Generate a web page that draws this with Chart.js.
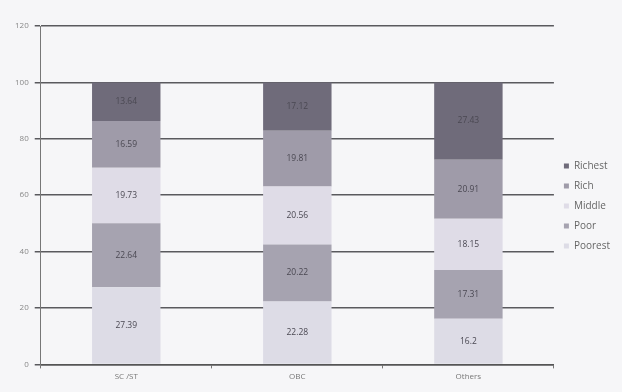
<!DOCTYPE html>
<html>
<head>
<meta charset="utf-8">
<script src="https://cdn.jsdelivr.net/npm/chart.js@4/dist/chart.umd.min.js"></script>
<style>
  html, body { margin: 0; padding: 0; background: #f6f6f8; }
  #wrap { width: 622px; height: 392px; position: relative; }
</style>
</head>
<body>
<div id="wrap"><canvas id="c" width="622" height="392"></canvas></div>
<script>
// Wealth quintile shares (%) by social group
const categories = ['SC /ST', 'OBC', 'Others'];
const poorest = [27.39, 22.28, 16.2];
const poor    = [22.64, 20.22, 17.31];
const middle  = [19.73, 20.56, 18.15];
const rich    = [16.59, 19.81, 20.91];
const richest = [13.64, 17.12, 27.43];
const yTicks  = [0, 20, 40, 60, 80, 100, 120];

const seriesNames  = ['Poorest', 'Poor', 'Middle', 'Rich', 'Richest'];
const seriesData   = [poorest, poor, middle, rich, richest];
const seriesColors = ['#dddce6', '#a6a3b0', '#dfdce7', '#9f9ba9', '#6f6b7a'];

// Writes each segment's value in the middle of its bar piece
const valueLabels = {
  id: 'valueLabels',
  afterDatasetsDraw(chart) {
    const ctx = chart.ctx;
    ctx.save();
    ctx.font = '8.5px "Open Sans", sans-serif';
    ctx.fillStyle = '#4a4852';
    ctx.textAlign = 'center';
    ctx.textBaseline = 'middle';
    chart.data.datasets.forEach((ds, i) => {
      const meta = chart.getDatasetMeta(i);
      meta.data.forEach((bar, j) => {
        const p = bar.getProps(['x', 'y', 'base'], true);
        ctx.fillText(String(ds.data[j]), p.x, (p.y + p.base) / 2);
      });
    });
    ctx.restore();
  }
};

new Chart(document.getElementById('c'), {
  type: 'bar',
  data: {
    labels: categories,
    datasets: seriesNames.map((name, i) => ({
      label: name,
      data: seriesData[i],
      backgroundColor: seriesColors[i],
      borderWidth: 0,
      barPercentage: 0.4,
      categoryPercentage: 1.0
    }))
  },
  options: {
    responsive: false,
    animation: false,
    layout: { padding: { left: 9, right: 2, top: 26, bottom: 6 } },
    scales: {
      x: {
        stacked: true,
        grid: { display: true, drawOnChartArea: false, tickLength: 4, color: '#777', offset: true },
        border: { display: true, color: '#555', width: 1.5 },
        ticks: { color: '#777', font: { size: 8, family: '"Open Sans", sans-serif' }, padding: 4 }
      },
      y: {
        stacked: true,
        min: 0,
        max: 120,
        afterBuildTicks(axis) { axis.ticks = yTicks.map(v => ({ value: v })); },
        grid: { color: '#5a5a5e', lineWidth: 1.5, tickLength: 6 },
        border: { display: true, color: '#777', width: 1 },
        ticks: { color: '#888', font: { size: 8, family: '"Open Sans", sans-serif' }, padding: 6 }
      }
    },
    plugins: {
      legend: {
        position: 'right',
        reverse: true,
        labels: {
          usePointStyle: true,
          pointStyle: 'rect',
          boxWidth: 5,
          boxHeight: 5,
          padding: 10,
          color: '#666',
          font: { size: 10, family: '"Open Sans", sans-serif' }
        }
      },
      tooltip: { enabled: false }
    }
  },
  plugins: [valueLabels]
});
</script>
</body>
</html>
